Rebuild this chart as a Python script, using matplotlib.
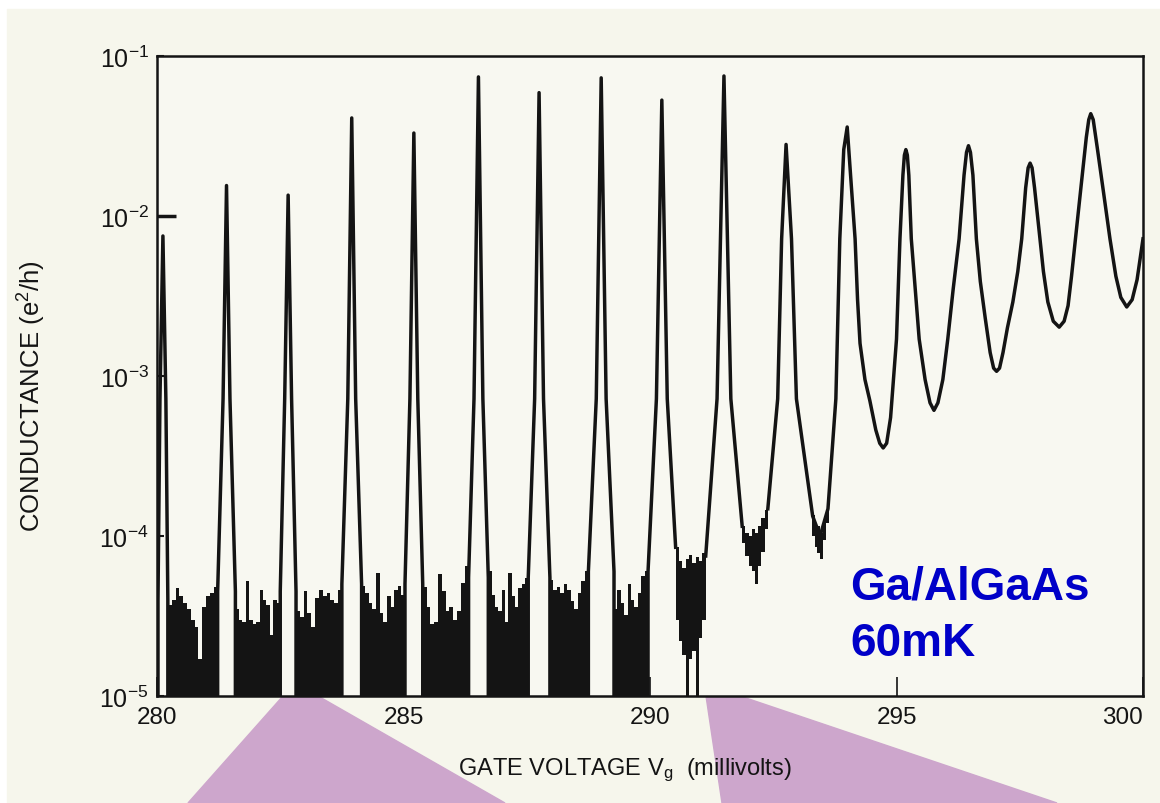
import matplotlib.pyplot as plt
from matplotlib.patches import Polygon, Rectangle
import numpy as np

plt.rcParams['font.family'] = ['Liberation Sans', 'DejaVu Sans']
plt.rcParams['mathtext.fontset'] = 'custom'
plt.rcParams['mathtext.rm'] = 'Liberation Sans'
plt.rcParams['mathtext.it'] = 'Liberation Sans:italic'
plt.rcParams['mathtext.bf'] = 'Liberation Sans:bold'

# sharp Coulomb peaks (gate voltage in mV, conductance in e^2/h)
peak_v = [280.12, 281.41, 282.66, 283.95, 285.21, 286.52, 287.75, 289.01, 290.24, 291.50]
peak_g = [7.5e-3, 1.55e-2, 1.35e-2, 4.1e-2, 3.3e-2, 7.4e-2, 5.9e-2, 7.3e-2, 5.3e-2, 7.5e-2]
mid_g = 7.2e-4
half_mid = [0.06, 0.07, 0.07, 0.08, 0.08, 0.09, 0.09, 0.10, 0.11, 0.14]
half_foot = [0.10, 0.18, 0.16, 0.20, 0.18, 0.20, 0.22, 0.26, 0.28, 0.37]
foot_left = [4e-5, 4.5e-5, 4.5e-5, 5e-5, 5e-5, 5.5e-5, 5.5e-5, 6e-5, 6e-5, 7.5e-5]
foot_right = [4e-5, 4.5e-5, 4.5e-5, 5e-5, 5e-5, 5.5e-5, 5.5e-5, 6e-5, 8.5e-5, 1.15e-4]

# noise floor between the sharp peaks (units of 1e-5)
noise_top = [
    [3.7, 4.0, 4.7, 4.2, 3.8, 3.5, 3.0, 2.7, 1.7, 3.6, 4.2, 4.4, 4.8],
    [3.5, 3.0, 2.9, 5.2, 3.0, 2.8, 2.9, 4.6, 4.0, 3.7, 2.4, 4.0, 3.8],
    [3.4, 3.1, 4.5, 3.3, 2.7, 4.1, 4.6, 4.2, 4.4, 4.0, 3.8, 4.6],
    [4.9, 4.4, 3.8, 3.5, 5.9, 3.3, 2.9, 4.2, 3.6, 4.6, 4.9, 4.3],
    [4.8, 3.6, 2.8, 2.9, 5.8, 4.5, 3.4, 3.6, 3.0, 3.4, 5.1, 6.5],
    [6.0, 4.3, 3.6, 3.4, 4.6, 2.9, 5.9, 4.2, 3.6, 4.7, 5.0, 5.5],
    [5.3, 4.6, 4.8, 4.4, 5.0, 4.6, 3.9, 3.5, 4.4, 5.2, 6.0],
    [3.5, 4.6, 3.8, 3.2, 5.0, 4.0, 3.6, 4.4, 5.6, 6.0],
    [8.5, 7.0, 6.3, 7.2, 7.6, 6.8, 7.4, 7.0, 7.8],
]
noise_bot = [None] * 8 + [[3.0, 2.2, 1.8, 0.5, 1.7, 1.9, 0.5, 2.3, 3.0]]

# broad peaks on the right side
right_v = [292.39, 292.59, 292.67, 292.76, 292.87, 292.97, 293.30, 293.45, 293.61, 293.77,
           293.85, 293.93, 294.00, 294.08, 294.16, 294.21, 294.26, 294.36, 294.46, 294.58,
           294.66, 294.73, 294.80, 294.88, 295.00, 295.07, 295.13, 295.16, 295.19, 295.22,
           295.25, 295.30, 295.46, 295.58, 295.68, 295.76, 295.84, 295.94, 296.04, 296.15,
           296.27, 296.37, 296.42, 296.46, 296.50, 296.55, 296.62, 296.70, 296.80, 296.90,
           296.97, 297.03, 297.09, 297.16, 297.25, 297.36, 297.46, 297.54, 297.62, 297.67,
           297.71, 297.75, 297.80, 297.91, 297.98, 298.07, 298.18, 298.30, 298.40, 298.48,
           298.55, 298.63, 298.75, 298.85, 298.90, 298.94, 298.99, 299.07, 299.20, 299.33,
           299.45, 299.55, 299.67, 299.78, 299.88, 300.00]
right_g = [1.48e-4, 7.2e-4, 7.2e-3, 2.8e-2, 7.2e-3, 7.2e-4, 1.33e-4, 1.0e-4, 1.48e-4, 7.2e-4,
           7.2e-3, 2.6e-2, 3.6e-2, 1.6e-2, 7.2e-3, 3.0e-3, 1.6e-3, 9.5e-4, 7.0e-4, 4.6e-4,
           3.8e-4, 3.55e-4, 3.8e-4, 5.5e-4, 1.7e-3, 7.2e-3, 1.8e-2, 2.4e-2, 2.6e-2, 2.4e-2,
           1.8e-2, 7.2e-3, 1.7e-3, 9.5e-4, 6.8e-4, 6.1e-4, 6.8e-4, 9.5e-4, 1.7e-3, 3.5e-3,
           7.2e-3, 1.8e-2, 2.5e-2, 2.75e-2, 2.5e-2, 1.8e-2, 7.2e-3, 3.9e-3, 2.3e-3, 1.4e-3,
           1.12e-3, 1.07e-3, 1.12e-3, 1.4e-3, 2.0e-3, 2.9e-3, 4.5e-3, 7.2e-3, 1.5e-2, 2.0e-2,
           2.14e-2, 2.0e-2, 1.5e-2, 7.2e-3, 4.5e-3, 2.9e-3, 2.2e-3, 2.02e-3, 2.2e-3, 2.75e-3,
           4.2e-3, 7.2e-3, 1.6e-2, 3.1e-2, 4.0e-2, 4.36e-2, 4.0e-2, 2.7e-2, 1.4e-2, 7.2e-3,
           4.2e-3, 3.1e-3, 2.7e-3, 3.0e-3, 4.0e-3, 7.2e-3]

# noisy valleys between broad peaks (start, end, top, bottom; units of 1e-5)
blob_range = [(291.87, 292.39), (293.28, 293.63)]
blob_top = [[11.5, 10.5, 10.0, 11.0, 10.5, 11.5, 13.0, 14.5], [13.5, 12.0, 11.5, 10.5, 12.5, 14.5]]
blob_bot = [[9.0, 7.5, 6.5, 6.0, 5.0, 6.5, 8.0, 11.0], [10.0, 8.5, 7.8, 7.2, 9.5, 12.0]]

paper = '#f6f6ec'
ink = '#141414'

fig = plt.figure(figsize=(11.6, 8.04), dpi=100, facecolor='white')
fig.patches.append(Rectangle((7 / 1160, 0), 1, 1 - 10 / 804, transform=fig.transFigure,
                             color=paper, zorder=-10))
# pink background shapes from the slide
for pts in ([(283, 697), (318, 697), (505, 804), (188, 804)],
            [(706, 697), (740, 697), (1057, 804), (722, 804)]):
    fig.patches.append(Polygon([(x / 1160, 1 - y / 804) for x, y in pts], closed=True,
                               transform=fig.transFigure, color='#cda6cc', zorder=-5))

ax = fig.add_axes([157 / 1160, 1 - 697 / 804, 986 / 1160, 640 / 804])
ax.set_facecolor('#f8f8f1')
ax.set_yscale('log')
ax.set_xlim(280, 300)
ax.set_ylim(1e-5, 1e-1)

# sharp peaks
for i in range(len(peak_v)):
    v, g = peak_v[i], peak_g[i]
    xs = [v - half_foot[i], v - half_mid[i], v, v + half_mid[i], v + half_foot[i]]
    ys = [foot_left[i], mid_g, g, mid_g, foot_right[i]]
    if i <= 8:
        xs, ys = [xs[0]] + xs, [0.8e-5] + ys
    if i <= 7:
        xs, ys = xs + [xs[-1]], ys + [0.8e-5]
    ax.plot(xs, ys, color=ink, lw=2.5, solid_joinstyle='round')

# noise floor
for i, top in enumerate(noise_top):
    x0 = peak_v[i] + half_foot[i]
    x1 = peak_v[i + 1] - half_foot[i + 1]
    edges = np.linspace(x0, x1, len(top) + 1)
    top = np.append(top, top[-1]) * 1e-5
    bot = 0.8e-5 if noise_bot[i] is None else np.append(noise_bot[i], noise_bot[i][-1]) * 1e-5
    ax.fill_between(edges, bot, top, step='post', color=ink, lw=0)

# broad peaks
ax.plot(right_v, right_g, color=ink, lw=2.5, solid_joinstyle='round')
for (x0, x1), top, bot in zip(blob_range, blob_top, blob_bot):
    edges = np.linspace(x0, x1, len(top) + 1)
    ax.fill_between(edges, np.append(bot, bot[-1]) * 1e-5, np.append(top, top[-1]) * 1e-5,
                    step='post', color=ink, lw=0)

for s in ax.spines.values():
    s.set_linewidth(1.8)
    s.set_color(ink)

ax.set_xticks([280, 285, 290, 295, 300])
ax.set_xticklabels(['280', '285', '290', '295', '300'])
ax.set_yticks([1e-5, 1e-4, 1e-3, 1e-2, 1e-1])
ax.set_yticklabels([r'$10^{-5}$', r'$10^{-4}$', r'$10^{-3}$', r'$10^{-2}$', r'$10^{-1}$'])
ax.minorticks_off()
ax.tick_params(axis='x', direction='in', length=14, width=1.2, labelsize=17.5, pad=7, colors=ink)
ax.tick_params(axis='y', direction='in', length=5, width=1.5, labelsize=18, pad=6, colors=ink)
ax.yaxis.get_major_ticks()[3].tick1line.set_markersize(14)
ax.yaxis.get_major_ticks()[3].tick1line.set_markeredgewidth(2.5)
ax.get_xticklabels()[-1].set_ha('right')

ax.set_xlabel(r'GATE VOLTAGE V$_{\rm g}$  (millivolts)', fontsize=17, color=ink)
ax.xaxis.set_label_coords(0.474, -0.093)
ax.set_ylabel(r'CONDUCTANCE (e$^2$/h)', fontsize=18.5, color=ink)
ax.yaxis.set_label_coords(-0.111, 0.47)

fig.text(850 / 1160, 1 - 600 / 804, 'Ga/AlGaAs', fontsize=33, fontweight='bold',
         color='#0000c8', ha='left', va='baseline')
fig.text(850 / 1160, 1 - 656 / 804, '60mK', fontsize=33, fontweight='bold',
         color='#0000c8', ha='left', va='baseline')

fig.savefig('out.png', dpi=100, facecolor=fig.get_facecolor())
